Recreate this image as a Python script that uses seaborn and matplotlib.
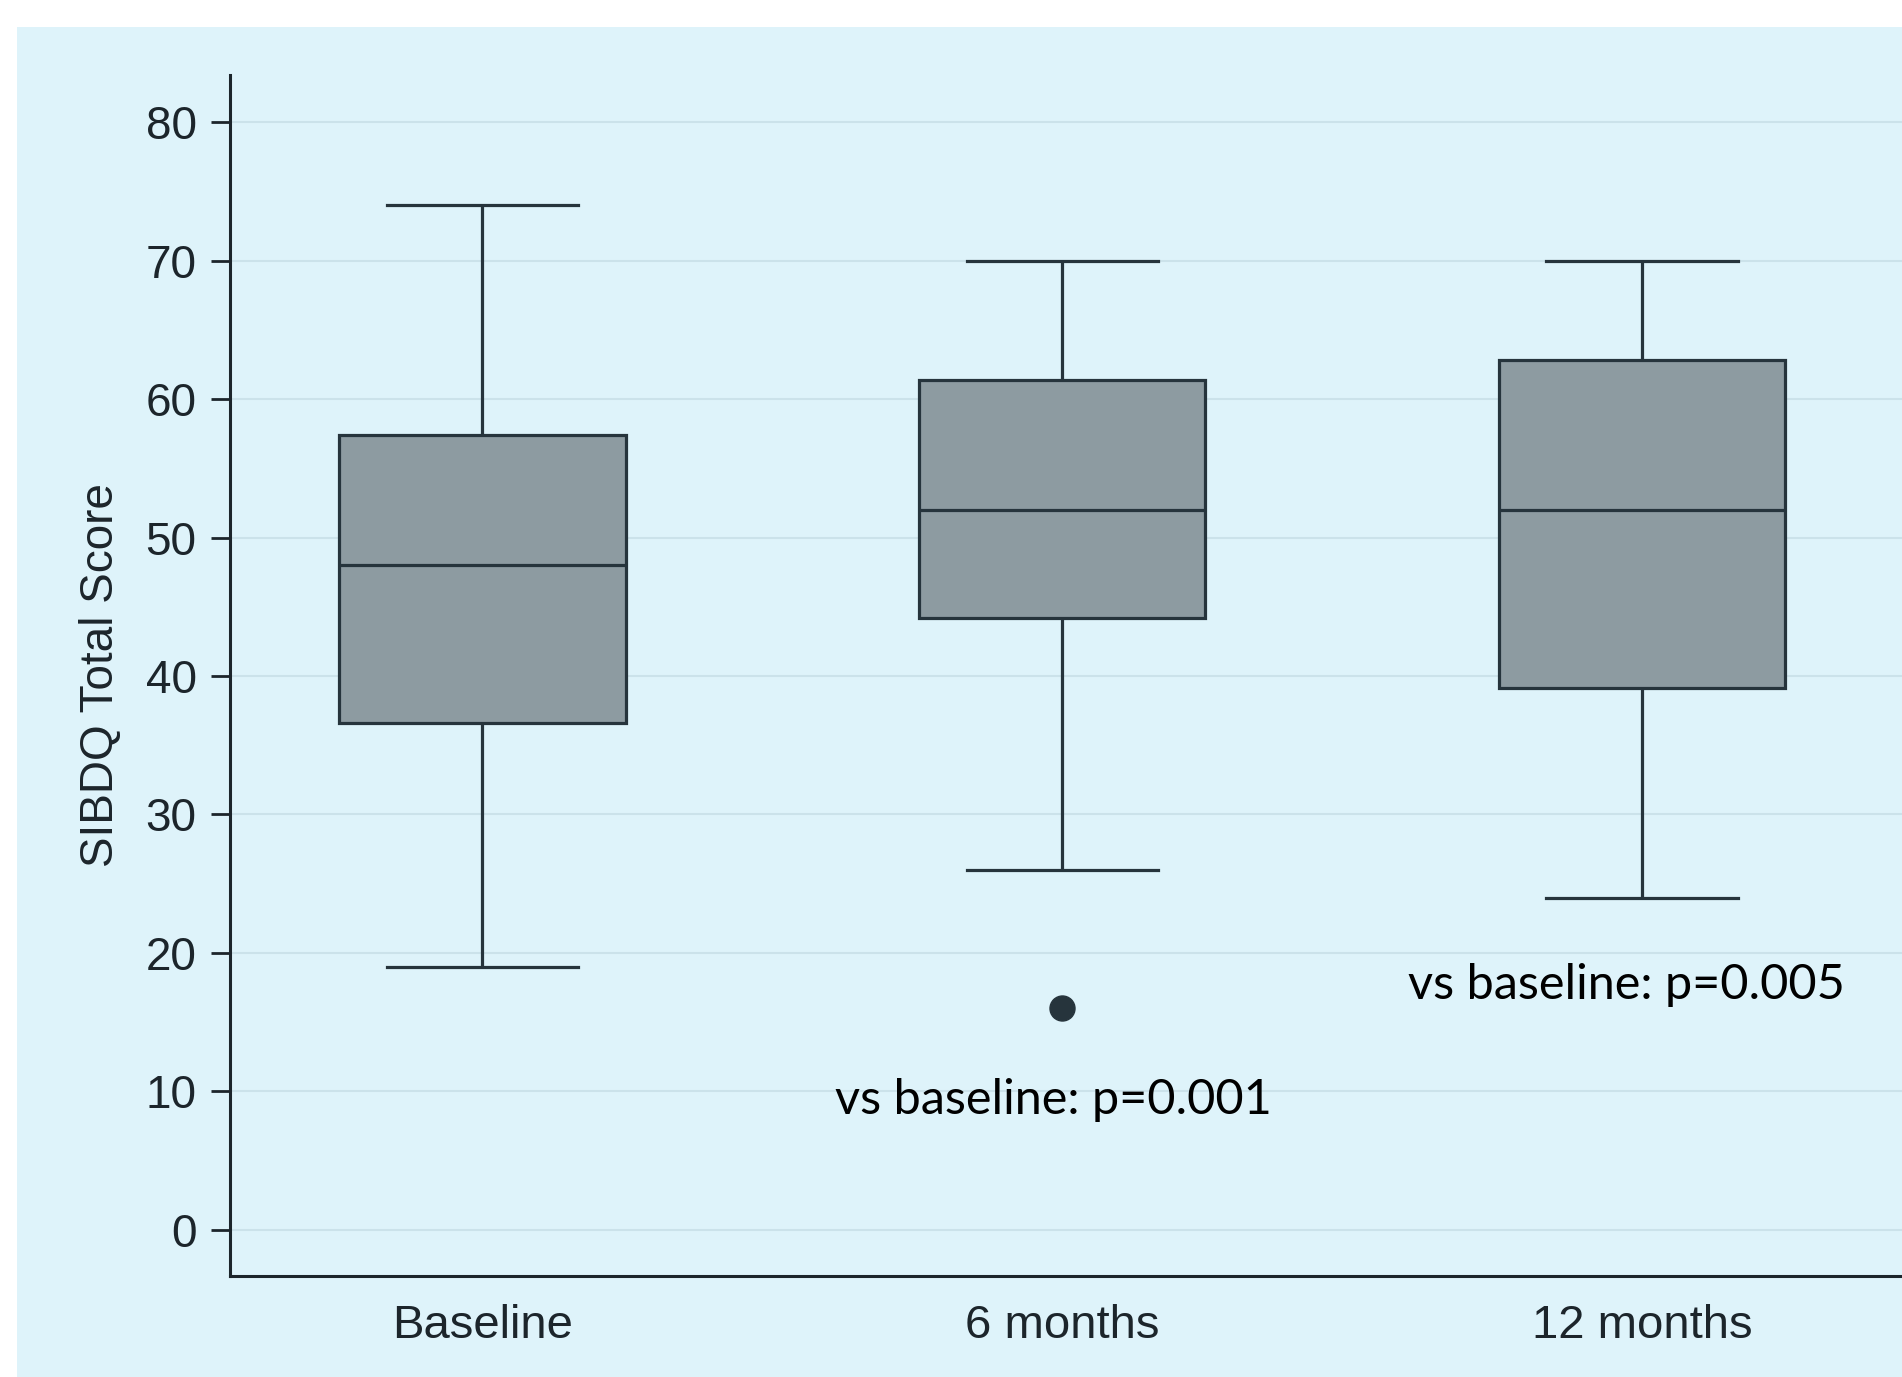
import numpy as np
import pandas as pd
import matplotlib
matplotlib.use('Agg')
import matplotlib.pyplot as plt
from matplotlib.patches import Rectangle
import seaborn as sns

# chart values (observations chosen so the box summaries match the figure)
groups = ['Baseline', '6 months', '12 months']
baseline = [19.0, 36.6, 48.0, 57.4, 74.0]
six_months = [16.0, 26.0, 44.2, 48.0, 52.0, 57.0, 61.4, 66.0, 70.0]
twelve_months = [24.0, 39.1, 52.0, 62.8, 70.0]
y_ticks = [0, 10, 20, 30, 40, 50, 60, 70, 80]
notes = ['vs baseline: p=0.001', 'vs baseline: p=0.005']

df = pd.DataFrame({
    'time': [groups[0]] * len(baseline) + [groups[1]] * len(six_months) + [groups[2]] * len(twelve_months),
    'score': baseline + six_months + twelve_months,
})

bg = '#def3fa'
box_fill = '#8d9ba1'
dark = '#26343c'

plt.rcParams['font.family'] = ['Liberation Sans', 'DejaVu Sans']

fig = plt.figure(figsize=(19.02, 13.77), dpi=100, facecolor='white')
fig.patches.append(Rectangle((17 / 1902, -0.01), 1, 1.01 - 27 / 1377, transform=fig.transFigure,
                             facecolor=bg, edgecolor='none', zorder=-10))
ax = fig.add_axes([230 / 1902, 1 - 1276 / 1377, 1 - 230 / 1902, (1276 - 75) / 1377])
ax.set_facecolor(bg)

sns.boxplot(data=df, x='time', y='score', order=groups, ax=ax, color=box_fill, saturation=1,
            width=0.494, linecolor=dark, linewidth=2.3, capwidths=0.33,
            flierprops=dict(marker='o', markersize=18, markerfacecolor=dark, markeredgecolor=dark))

ax.set_ylim(-3.33, 83.4)
ax.set_xlim(-0.435, 2.448)
ax.set_yticks(y_ticks)
ax.yaxis.grid(True, color='#cbe2ea', linewidth=1.5)
ax.set_axisbelow(True)

for s in ['top', 'right']:
    ax.spines[s].set_visible(False)
for s in ['left', 'bottom']:
    ax.spines[s].set_linewidth(2.2)
    ax.spines[s].set_color('#1c252b')

ax.tick_params(axis='y', length=14, width=2, pad=10, labelsize=33, colors='#1c252b')
ax.tick_params(axis='x', length=0, pad=20, labelsize=34, colors='#1c252b')
ax.set_xlabel('')
ax.set_ylabel('SIBDQ Total Score', fontsize=33, labelpad=16, color='#1c252b')

ax.text(0.985, 9.4, notes[0], ha='center', va='center', fontsize=35, family='Lato', color='black')
ax.text(1.973, 17.7, notes[1], ha='center', va='center', fontsize=35, family='Lato', color='black')

fig.savefig('out.png', dpi=100, facecolor=fig.get_facecolor())
